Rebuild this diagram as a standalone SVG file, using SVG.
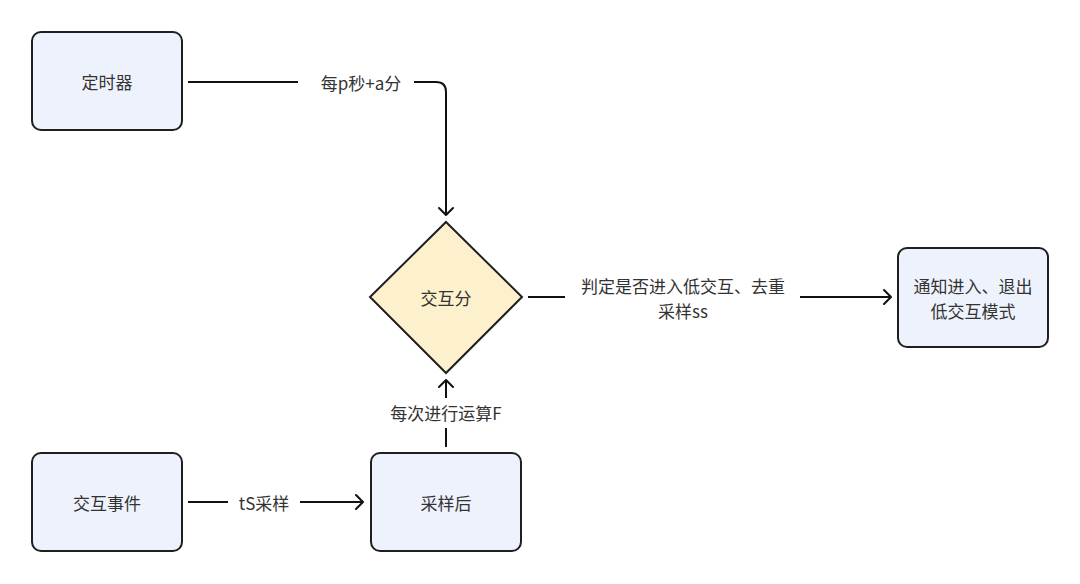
<svg xmlns="http://www.w3.org/2000/svg" width="1080" height="584" viewBox="0 0 1080 584">
<defs>
<style>
.box{fill:#eef2fc;stroke:#1f1f1f;stroke-width:2}
.dia{fill:#fdf0cc;stroke:#1f1f1f;stroke-width:2}
.t{font-family:"Noto Sans CJK SC","Noto Sans",sans-serif;font-size:17px;fill:#333;text-anchor:middle;dominant-baseline:central}
.ln{fill:none;stroke:#111;stroke-width:2}
.ar{fill:none;stroke:#111;stroke-width:2;stroke-linecap:round;stroke-linejoin:round}
</style>
</defs>
<rect width="1080" height="584" fill="#fff"/>
<g id="timer"><rect class="box" x="32" y="32" width="150" height="98" rx="9"/><text class="t" x="107" y="81">定时器</text></g>
<g id="score"><polygon class="dia" points="446,222 522,297 446,373 370,297"/><text class="t" x="446" y="297">交互分</text></g>
<g id="notify"><rect class="box" x="898" y="248" width="150" height="99" rx="9"/><text class="t" x="973" y="285">通知进入、退出</text><text class="t" x="973" y="310">低交互模式</text></g>
<g id="event"><rect class="box" x="32" y="453" width="150" height="98" rx="9"/><text class="t" x="107" y="502">交互事件</text></g>
<g id="sample"><rect class="box" x="371" y="453" width="150" height="98" rx="9"/><text class="t" x="446" y="502">采样后</text></g>
<g id="connectors">
<path class="ln" d="M188,82 H298"/>
<text class="t" x="361" y="82">每p秒+a分</text>
<path class="ln" d="M414,82 H436 Q446,82 446,92 V215"/>
<path class="ar" d="M439,208 L446,215 L453,208"/>
<path class="ln" d="M528,297 H565"/>
<text class="t" x="683" y="285">判定是否进入低交互、去重</text>
<text class="t" x="683" y="310">采样ss</text>
<path class="ln" d="M800,297 H891"/>
<path class="ar" d="M884,290 L891,297 L884,304"/>
<path class="ln" d="M188,502 H228"/>
<text class="t" x="264" y="502">tS采样</text>
<path class="ln" d="M300,502 H363"/>
<path class="ar" d="M356,495 L363,502 L356,509"/>
<path class="ln" d="M446,447 V428"/>
<text class="t" x="446" y="412">每次进行运算F</text>
<path class="ln" d="M446,398 V380"/>
<path class="ar" d="M439,387 L446,380 L453,387"/>
</g>
</svg>
